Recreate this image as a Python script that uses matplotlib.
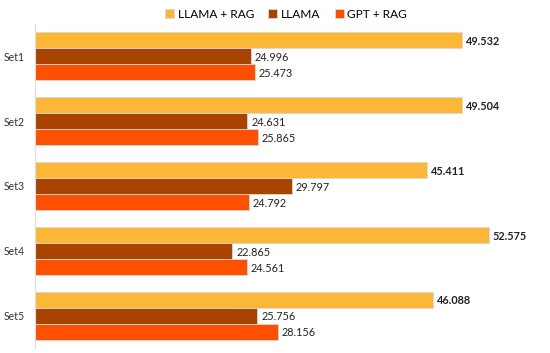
import matplotlib.pyplot as plt
import numpy as np

plt.rcParams['font.family'] = ['Lato', 'DejaVu Sans']

sets = ['Set1', 'Set2', 'Set3', 'Set4', 'Set5']
llama_rag = [49.532, 49.504, 45.411, 52.575, 46.088]
llama = [24.996, 24.631, 29.797, 22.865, 25.756]
gpt_rag = [25.473, 25.865, 24.792, 24.561, 28.156]

series = [('LLAMA + RAG', llama_rag, '#FDB737', 'bold'),
          ('LLAMA', llama, '#A84300', 'normal'),
          ('GPT + RAG', gpt_rag, '#FF4F00', 'normal')]

fig = plt.figure(figsize=(5.5, 3.53), dpi=100)
ax = fig.add_axes([35 / 550, 5 / 353, 515 / 550, 324 / 353])

y = np.arange(len(sets))
h = 0.247
for i, (name, vals, col, wt) in enumerate(series):
    pos = y + (i - 1) * h
    ax.barh(pos, vals, height=h, color=col, edgecolor='#d9d9d9', linewidth=0.6, label=name)
    for p, v in zip(pos, vals):
        ax.text(v + 0.45, p + 0.02, f'{v:.3f}', va='center', ha='left', fontsize=7.8,
                fontweight=wt, color='#222222')

ax.set_xlim(0, 59.7)
ax.set_ylim(4.5, -0.5)
ax.set_yticks(y)
ax.set_yticklabels(sets, fontsize=7.6, color='#333333')
ax.tick_params(axis='y', length=0, pad=7.5)
ax.set_xticks([])
for s in ['top', 'right', 'bottom']:
    ax.spines[s].set_visible(False)
ax.spines['left'].set_color('#dddddd')
ax.spines['left'].set_linewidth(0.8)

fig.legend(loc='upper center', bbox_to_anchor=(0.52, 1.005), ncol=3, frameon=False,
           fontsize=8.6, handlelength=0.75, handleheight=0.75, handletextpad=0.3,
           columnspacing=1.2)

fig.savefig('out.png', dpi=100)
